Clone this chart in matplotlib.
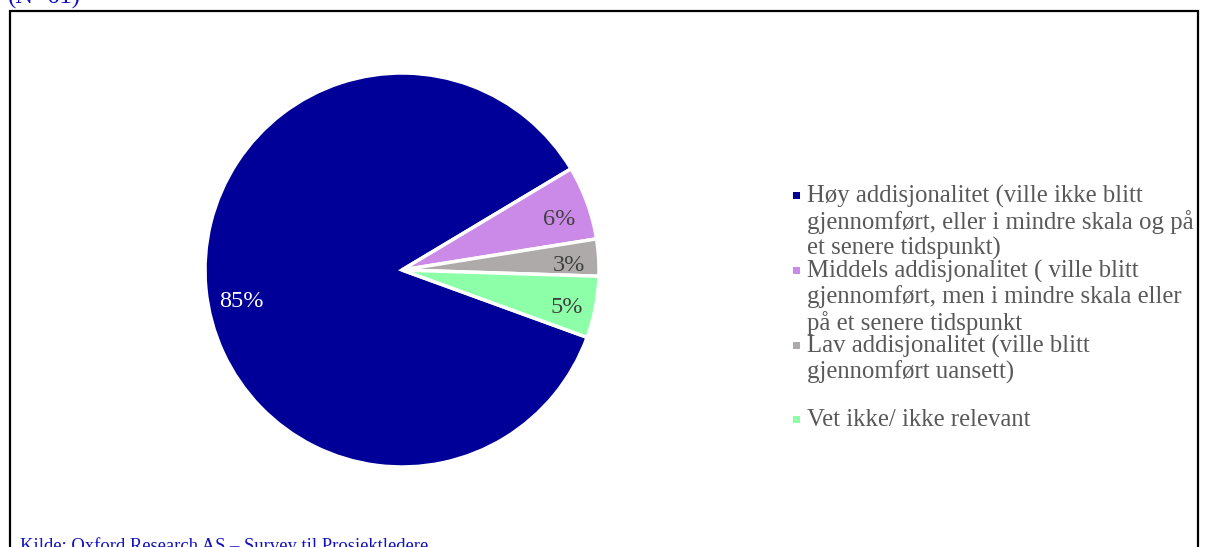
import matplotlib
matplotlib.use("Agg")
import matplotlib.pyplot as plt
from matplotlib.patches import Rectangle

# Data
categories = [
    "Høy addisjonalitet (ville ikke blitt\ngjennomført, eller i mindre skala og på\net senere tidspunkt)",
    "Middels addisjonalitet ( ville blitt\ngjennomført, men i mindre skala eller\npå et senere tidspunkt",
    "Lav addisjonalitet (ville blitt\ngjennomført uansett)",
    "Vet ikke/ ikke relevant",
]
shares = [85, 6, 3, 5]
colors = ["#000099", "#CC8AE8", "#AEAAAA", "#8CFFA8"]
label_colors = ["white", "#404040", "#404040", "#404040"]
title = "(N=61)"
source = "Kilde: Oxford Research AS \u2013 Survey til Prosjektledere"

plt.rcParams["font.family"] = ["Liberation Serif", "DejaVu Serif"]

W, H = 1208, 547
fig = plt.figure(figsize=(W / 100, H / 100), dpi=100)
fig.patch.set_facecolor("white")

def fx(px):
    return px / W

def fy(py):
    return 1 - py / H

# Outer frame (bottom edge runs off the canvas)
fig.patches.append(Rectangle((fx(9.5), fy(600)), fx(1197.5) - fx(9.5), fy(10.5) - fy(600),
                             transform=fig.transFigure, fill=False, edgecolor="black",
                             linewidth=1.6, zorder=0))

# Pie
cx, cy, r = 402, 270, 197
ax = fig.add_axes([fx(cx - r), fy(cy + r), 2 * r / W, 2 * r / H])
total = sum(shares)
wedges, texts, autotexts = ax.pie(
    shares, colors=colors, startangle=340, counterclock=False,
    autopct=lambda p: f"{p * total / 100:.0f}%", pctdistance=0.84,
    wedgeprops=dict(edgecolor="white", linewidth=2.5),
    textprops=dict(fontsize=17.5),
)
for i, (t, c) in enumerate(zip(autotexts, label_colors)):
    t.set_color(c)
    x, y = t.get_position()
    if i == 0:
        t.set_position((x + 0.02, y - 0.08))
    else:
        t.set_position((x + 0.01, y - 0.03))
ax.set_xlim(-1.0, 1.0)
ax.set_ylim(-1.0, 1.0)
ax.set_aspect("equal")

# Legend
entry_y = [196, 271, 346, 420]
line_step = 26
for label, color, y0 in zip(categories, colors, entry_y):
    fig.patches.append(Rectangle((fx(793), fy(y0 + 3)), 7 / W, 7 / H,
                                 transform=fig.transFigure, facecolor=color,
                                 edgecolor="none"))
    for i, line in enumerate(label.split("\n")):
        fig.text(fx(807), fy(y0 + i * line_step), line, fontsize=17.8,
                 color="#595959", va="center", ha="left")

# Title and source
fig.text(fx(8), fy(4), title, fontsize=17.8, color="#1010C0", va="baseline", ha="left")
fig.text(fx(20), fy(551), source, fontsize=13.4, color="#1010C0", va="baseline", ha="left")

fig.savefig("out.png", dpi=100, facecolor="white")
